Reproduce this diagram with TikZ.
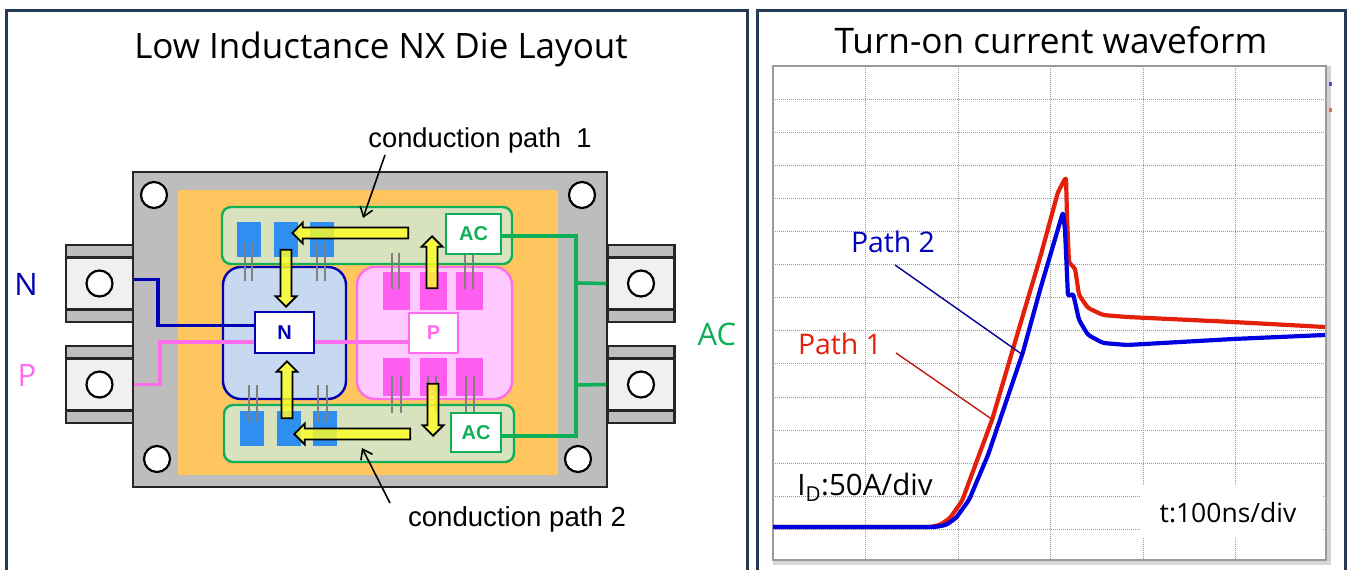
\documentclass[tikz,border=0pt]{standalone}
\usepackage{fontspec}
\setmainfont{Liberation Sans}
\newfontfamily\titlefont{Open Sans}
\usetikzlibrary{calc}
\usetikzlibrary{arrows.meta}
\usetikzlibrary{shapes.arrows}
\definecolor{PanelNavy}{HTML}{243B53}
\definecolor{ModuleGray}{HTML}{BDBDBD}
\definecolor{TabLight}{HTML}{F0F0F0}
\definecolor{SubOrange}{HTML}{FFC55F}
\definecolor{AcGreen}{HTML}{0DB058}
\definecolor{AcFill}{HTML}{D8E2BE}
\definecolor{ChipBlue}{HTML}{2E8FF0}
\definecolor{NBlue}{HTML}{0000B4}
\definecolor{NFill}{HTML}{C6D9F1}
\definecolor{PPink}{HTML}{FF6CEC}
\definecolor{PFill}{HTML}{FFC9FF}
\definecolor{ChipPink}{HTML}{FF5CF0}
\definecolor{BondGray}{HTML}{808080}
\definecolor{FlowYellow}{HTML}{FFFF22}
\definecolor{GridGray}{HTML}{9A9A9A}
\definecolor{TraceRed}{HTML}{E4200C}
\definecolor{TraceBlue}{HTML}{0000E0}
\newcommand{\fsz}[1]{\fontsize{#1}{#1}\selectfont}

\begin{document}
\begin{tikzpicture}[x=1pt,y=-1pt]
    \tikzstyle{box}=[shape=rectangle,inner sep=0pt,line width=2.4pt]
    \tikzstyle{tab}=[box,draw=black!85,fill=ModuleGray,minimum width=67,minimum height=77]
    \tikzstyle{tabin}=[box,draw=black!85,fill=TabLight,minimum width=67,minimum height=52]
    \tikzstyle{hole}=[shape=circle,inner sep=0pt,draw=black,fill=white,line width=2.2pt,minimum size=26]
    \tikzstyle{acframe}=[box,rounded corners=9,draw=AcGreen,fill=AcFill]
    \tikzstyle{chipb}=[box,fill=ChipBlue,minimum width=24,minimum height=35]
    \tikzstyle{chipp}=[box,fill=ChipPink,minimum width=27,minimum height=38]
    \tikzstyle{padbox}=[box,fill=white,font=\bfseries\fsz{20}]
    \tikzstyle{bond}=[BondGray,line width=2.2pt]
    \tikzstyle{flow}=[shape=single arrow,draw=black,fill=FlowYellow,fill opacity=0.82,line width=1.8pt,inner sep=4.5pt,single arrow head extend=5pt,single arrow tip angle=90,single arrow head indent=0pt,minimum width=21]
    \tikzstyle{gridline}=[GridGray,line width=1pt,densely dotted]
    \tikzstyle{trace}=[line width=4.2pt,line join=round,rounded corners=3]
    \tikzstyle{wirel}=[line width=3.6pt]
    \tikzstyle{callout}=[-{Straight Barb[length=9,width=13]},line width=1.6pt]

    \useasboundingbox (0,0) rectangle (1352,570);
    \fill[white] (0,0) rectangle (1352,570);

    % panels
    \draw[PanelNavy,line width=3pt] (6,580) -- (6,10) -- (747,10) -- (747,580);
    \draw[PanelNavy,line width=3pt] (757,580) -- (757,10) -- (1345,10) -- (1345,580);
    \node[font=\titlefont\fsz{35}] (title_l) at (381,49) {Low Inductance NX Die Layout};
    \node[font=\titlefont\fsz{35.2}] (title_r) at (1051,40) {Turn-on current waveform};

    % terminals
    \foreach \nm/\tx/\ty in {term_n/99.5/283.5,term_p/99.5/384.5,term_a/641/283.5,term_b/641/384.5}{
        \node[tab] (\nm) at (\tx,\ty) {};
        \node[tabin] (\nm_in) at (\tx,\ty) {};
        \node[hole] (\nm_hole) at (\tx,\ty) {};
    }

    % module body
    \node[box,draw=black!85,fill=ModuleGray,minimum width=474,minimum height=315] (module) at (370,329.5) {};
    \node[box,fill=SubOrange,minimum width=380,minimum height=285] (substrate) at (368,332.5) {};
    \node[hole] (hole_tl) at (154,195) {};
    \node[hole] (hole_bl) at (157,459) {};
    \node[hole] (hole_tr) at (582,195) {};
    \node[hole] (hole_br) at (578,459) {};

    % ac substrates
    \node[acframe,minimum width=290,minimum height=57] (ac_top) at (367,235.5) {};
    \node[acframe,minimum width=290,minimum height=57] (ac_bot) at (369,433.5) {};
    \node[box,rounded corners=18,draw=PPink,fill=PFill,minimum width=155,minimum height=132] (p_sub) at (434.5,333) {};
    \node[box,rounded corners=18,draw=NBlue,fill=NFill,minimum width=123,minimum height=132] (n_sub) at (284.5,333) {};

    % dies
    \foreach \cx [count=\ci] in {249,285.5,321.5}{
        \node[chipb] (chip_t\ci) at (\cx,239.5) {};
    }
    \foreach \cx [count=\ci] in {252,288.5,325}{
        \node[chipb] (chip_b\ci) at (\cx,428) {};
    }
    \foreach \cx [count=\ci] in {396.5,433,469}{
        \node[chipp] (chip_u\ci) at (\cx,290.5) {};
        \node[chipp] (chip_d\ci) at (\cx,376.5) {};
    }

    % bond wires
    \foreach \wx in {245,252,317,325}{
        \draw[bond] (\wx,243) -- (\wx,281);
    }
    \foreach \wx in {249,257,318,327}{
        \draw[bond] (\wx,385) -- (\wx,422);
    }
    \foreach \wx in {392,399,465,473}{
        \draw[bond] (\wx,253) -- (\wx,289);
    }
    \foreach \wx in {392,401,428,436,466,474}{
        \draw[bond] (\wx,376) -- (\wx,413);
    }

    % pads
    \node[padbox,draw=NBlue,text=NBlue,minimum width=59,minimum height=41] (n_pad) at (284.5,332.5) {N};
    \node[padbox,draw=PPink,text=PPink,minimum width=49,minimum height=40] (p_pad) at (433.5,333) {P};
    \node[padbox,draw=AcGreen,text=AcGreen,minimum width=55,minimum height=40] (ac_pad_t) at (473.5,234) {AC};
    \node[padbox,draw=AcGreen,text=AcGreen,minimum width=50,minimum height=39] (ac_pad_b) at (476,432.5) {AC};

    % n wire
    \draw[NBlue,wirel] ($(term_n.east)+(0,-4)$) -- ++(24,0) |- ($(n_pad.west)+(0,-7)$);
    % p wire
    \draw[PPink,wirel] (term_p.east) -- ++(26,0) |- ($(n_pad.west)+(0,9.5)$);
    \draw[PPink,wirel] ($(n_pad.east)+(0,9.5)$) -- ($(p_pad.west)+(0,9)$);
    % ac wires
    \coordinate (bus_t) at (576,236);
    \coordinate (bus_b) at (576,436);
    \coordinate (bus_1) at (576,283);
    \coordinate (bus_2) at (574,385);
    \draw[AcGreen,wirel] ($(ac_pad_t.east)+(0,2)$) -- (bus_t) -- (bus_b) -- ($(ac_pad_b.east)+(0,3.5)$);
    \draw[AcGreen,wirel] (bus_1) -- (term_a.west);
    \draw[AcGreen,wirel] (bus_2) -- (term_b.west);

    % current arrows
    \node[flow,minimum height=116,rotate=180] (flow_h1) at (353,233) {};
    \node[flow,minimum height=116,rotate=180] (flow_h2) at (355,434) {};
    \node[flow,minimum height=57,rotate=-90] (flow_v1) at (286,275.5) {};
    \node[flow,minimum height=57,rotate=90] (flow_v2) at (287,392.5) {};
    \node[flow,minimum height=52,rotate=90] (flow_v3) at (432,265) {};
    \node[flow,minimum height=52,rotate=-90] (flow_v4) at (433,407) {};

    % labels
    \node[font=\fsz{27.3},inner sep=0pt] (cp_1) at (480,140) {conduction path\ \ 1};
    \node[font=\fsz{27.6},inner sep=0pt] (cp_2) at (517,519) {conduction path 2};
    \coordinate (cp_1_end) at (363,218);
    \coordinate (cp_2_end) at (362,448);
    \draw[callout] (385,155) -- (cp_1_end);
    \draw[callout] (390,503) -- (cp_2_end);
    \node[font=\titlefont\fsz{31},text=NBlue] (lab_n) at (26,284) {N};
    \node[font=\titlefont\fsz{31},text=PPink] (lab_p) at (27,375) {P};
    \node[font=\titlefont\fsz{31},text=AcGreen] (lab_ac) at (717,334) {AC};

    % scope frame
    \fill[ModuleGray!70] (1326,66) rectangle (1331,560);
    \fill[ModuleGray!60] (773,560) rectangle (1331,565);
    \fill[TraceBlue!70] (1329,82) rectangle (1332,86);
    \fill[TraceRed!70] (1329,108) rectangle (1332,112);
    \foreach \gk in {1,...,14}{
        \draw[gridline] (773,66+33.1*\gk) -- (1326,66+33.1*\gk);
    }
    \foreach \gk in {1,...,5}{
        \draw[gridline] (773+92.5*\gk,66) -- (773+92.5*\gk,560);
    }
    \fill[white] (1140,486) rectangle (1322,538);
    \draw[GridGray,line width=1.6pt] (773,560) -- (773,66) -- (1326,66) -- (1326,560) -- cycle;

    % traces
    \draw[TraceRed,trace] (773,527) -- (930,527) -- (940,525) -- (950,518) -- (962,501) -- (992,420) -- (1023,315) -- (1040,258) -- (1058,192) -- (1066,177) -- (1067,217) -- (1069,263) -- (1075,268) -- (1079,295) -- (1088,308) -- (1103,315) -- (1127,317) -- (1233,322) -- (1325,327);
    \draw[TraceBlue,trace] (773,527) -- (935,527) -- (946,525) -- (956,518) -- (969,500) -- (988,455) -- (1023,352) -- (1040,290) -- (1063,212) -- (1065,230) -- (1068,297) -- (1073,293) -- (1079,320) -- (1088,335) -- (1103,343) -- (1127,345) -- (1233,339) -- (1325,335);

    % trace labels
    \node[font=\titlefont\fsz{28.4},text=TraceBlue!85!black] (lab_p2) at (893,242) {Path 2};
    \node[font=\titlefont\fsz{28.4},text=TraceRed] (lab_p1) at (840,344) {Path 1};
    \coordinate (p2_end) at (1023,355);
    \coordinate (p1_end) at (993,420);
    \draw[NBlue!80!black,line width=1.4pt] (895,265) -- (p2_end);
    \draw[TraceRed!85!black,line width=1.4pt] (896,353) -- (p1_end);
    \node[font=\titlefont\fsz{29.5}] (lab_id) at (865,487) {I\textsubscript{D}:50A/div};
    \node[font=\titlefont\fsz{26.5}] (lab_t) at (1228,513) {t:100ns/div};
\end{tikzpicture}
\end{document}
